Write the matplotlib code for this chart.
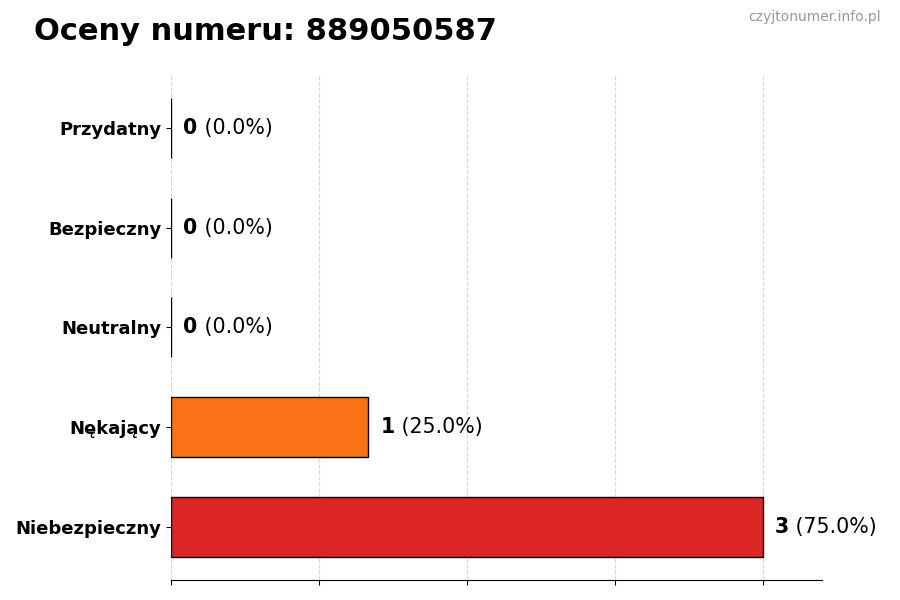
import matplotlib
matplotlib.use("Agg")
import matplotlib.pyplot as plt
import numpy as np

phone = "889050587"
categories = ["Niebezpieczny", "Nękający", "Neutralny", "Bezpieczny", "Przydatny"]
counts = [3, 1, 0, 0, 0]
colors = ["#dc2626", "#f97316", "#9ca3af", "#22c55e", "#3b82f6"]

total = sum(counts)
percents = [c / total * 100 for c in counts]

fig = plt.figure(figsize=(9, 6), dpi=100)
ax = fig.add_axes([0.19, 0.0333, 0.723, 0.842])

y = np.arange(len(categories))
ax.barh(y, counts, height=0.6, color=colors, edgecolor="black", linewidth=1)

xmax = max(counts) * 1.1
ax.set_xlim(0, xmax)
ax.set_xticks(np.linspace(0, max(counts), 5))
ax.set_xticklabels([])
ax.set_yticks(y)
ax.set_yticklabels(categories, fontsize=13, fontweight="bold")
ax.grid(axis="x", linestyle="--", color="#cccccc", alpha=0.8)
ax.set_axisbelow(True)
for s in ["top", "right", "left"]:
    ax.spines[s].set_visible(False)

fig.canvas.draw()
renderer = fig.canvas.get_renderer()
for yi, c, p in zip(y, counts, percents):
    t = ax.annotate(str(c), xy=(c, yi), xytext=(9, 0), textcoords="offset points",
                    va="center", ha="left", fontsize=14.8, fontweight="bold")
    w = t.get_window_extent(renderer).width * 72 / fig.dpi
    ax.annotate(f" ({p:.1f}%)", xy=(c, yi), xytext=(9 + w, 0), textcoords="offset points",
                va="center", ha="left", fontsize=14.8)

fig.text(0.038, 0.948, f"Oceny numeru: {phone}", fontsize=22, fontweight="bold",
         va="center", ha="left")
fig.text(0.979, 0.971, "czyjtonumer.info.pl", fontsize=10, color="#999999",
         va="center", ha="right")

fig.savefig("out.png", dpi=100)
